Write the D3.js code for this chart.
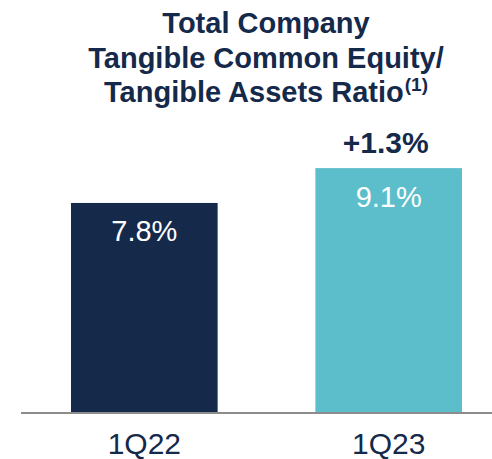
<!DOCTYPE html>
<html>
<head>
<meta charset="utf-8">
<script src="https://cdn.jsdelivr.net/npm/d3@7"></script>
<style>
  body { margin: 0; background: #fff; }
  svg { display: block; font-family: "Liberation Sans", Arial, sans-serif; }
</style>
</head>
<body>
<div id="chart"></div>
<script>
var width = 492;
var height = 459;

var categories = ["1Q22", "1Q23"];
var values = [7.8, 9.1];
var valueLabels = ["7.8%", "9.1%"];
var changeLabel = "+1.3%";
var titleLines = ["Total Company", "Tangible Common Equity/", "Tangible Assets Ratio"];
var footnote = "(1)";

var navy = "#15294b";
var teal = "#5bbeca";
var barColors = [navy, teal];

var svg = d3.select("#chart").append("svg")
    .attr("width", width)
    .attr("height", height);

var x = d3.scaleBand()
    .domain(categories)
    .range([71, 462])
    .paddingInner(0.4)
    .paddingOuter(0);

var y = d3.scaleLinear()
    .domain([0, 10])
    .range([412, 144]);

// title
var title = svg.append("text")
    .attr("text-anchor", "middle")
    .attr("fill", navy)
    .style("font-weight", "bold")
    .style("font-size", "29px");

titleLines.forEach(function(line, i) {
  title.append("tspan")
      .attr("x", 266)
      .attr("y", 33 + i * 34.5)
      .text(line);
  if (i == titleLines.length - 1) {
    // footnote marker as superscript
    title.append("tspan")
        .attr("dy", -11)
        .attr("dx", 1)
        .style("font-size", "19px")
        .text(footnote);
  }
});

// bars
svg.append("g")
  .selectAll("rect")
  .data(values)
  .join("rect")
    .attr("x", (d, i) => x(categories[i]))
    .attr("y", d => y(d))
    .attr("width", x.bandwidth())
    .attr("height", d => y(0) - y(d))
    .attr("fill", (d, i) => barColors[i]);

// value labels inside bars
svg.append("g")
  .selectAll("text")
  .data(values)
  .join("text")
    .attr("x", (d, i) => x(categories[i]) + x.bandwidth() / 2)
    .attr("y", d => y(d) + 38.5)
    .attr("text-anchor", "middle")
    .attr("fill", "#fff")
    .style("font-size", "29px")
    .text((d, i) => valueLabels[i]);

// change label above the last bar
svg.append("text")
    .attr("x", x(categories[1]) + x.bandwidth() / 2 - 3)
    .attr("y", y(values[1]) - 15)
    .attr("text-anchor", "middle")
    .attr("fill", navy)
    .style("font-weight", "bold")
    .style("font-size", "30px")
    .text(changeLabel);

// baseline
svg.append("line")
    .attr("x1", 21)
    .attr("x2", width)
    .attr("y1", y(0) + 1)
    .attr("y2", y(0) + 1)
    .attr("stroke", "#8c8c8c")
    .attr("stroke-width", 2);

// category axis
var xAxis = svg.append("g")
    .attr("transform", `translate(0,${y(0)})`)
    .call(d3.axisBottom(x).tickSize(0).tickPadding(0));
xAxis.select(".domain").remove();
xAxis.selectAll("text")
    .attr("y", 42)
    .attr("dy", 0)
    .attr("fill", navy)
    .style("font-family", "'Liberation Sans', Arial, sans-serif")
    .style("font-size", "30px");
</script>
</body>
</html>
